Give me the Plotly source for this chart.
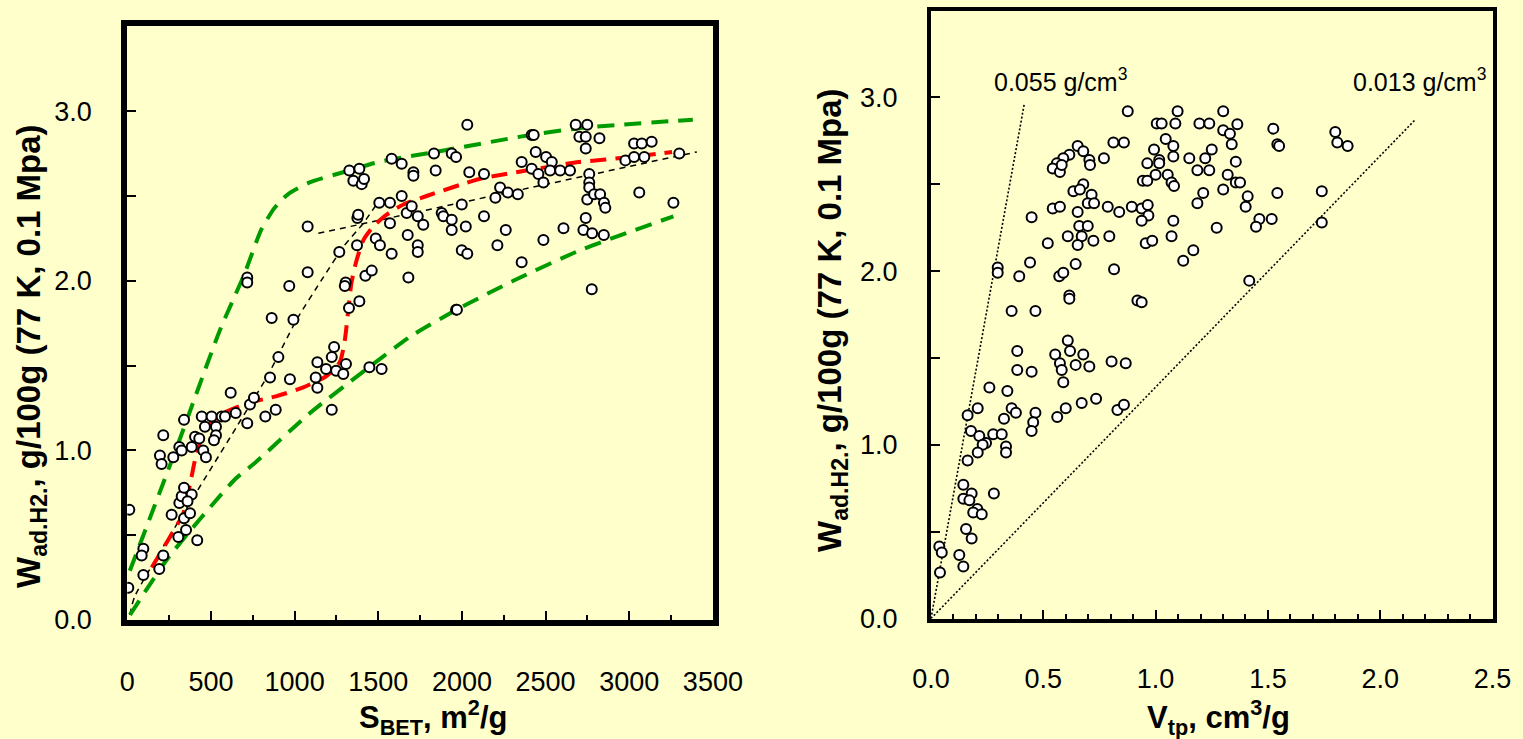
import plotly.graph_objects as go

# ---------------- data: left panel (S_BET vs W) ----------------
s_bet = [12, 6, 96, 86, 96, 215, 191, 305, 351, 418, 265, 339, 375, 311, 325, 339, 385, 360,
         195, 205, 275, 215, 311, 325, 339, 385, 405, 430, 454, 470, 445, 504, 464, 530, 530,
         518, 564, 584, 618, 648, 717, 733, 757, 825, 853, 887, 903, 972, 1136, 1136, 1126,
         1222, 1236, 1188, 1248, 1222, 1291, 1307, 1447, 1520,
         717, 717, 863, 993, 968, 1078, 1078, 1267, 1305, 1300, 1325, 1387, 1423, 1461, 1373,
         1375, 1380, 1485, 1510, 1580, 1506, 1570, 1570, 1640, 1670, 1676, 1680, 1327, 1351,
         1387, 1401, 1415, 1580, 1640, 1710, 1710, 1833, 1843, 1939, 1965, 2032, 2044, 2132,
         1700, 1736, 1769, 1736, 1736, 1879, 1889, 1939, 1939, 1999, 1999, 2032, 2023, 1965,
         1970, 2132, 2212, 2200, 2228, 2274, 2334, 2262, 2357, 2357, 2417, 2429, 2441, 2417,
         2457, 2487, 2503, 2537, 2527, 2587, 2646, 2487, 2607, 2680, 2749, 2702, 2740, 2740,
         2822, 2761, 2761, 2761, 2749, 2790, 2826, 2849, 2857, 2740, 2726, 2778, 2848, 2776,
         2977, 3029, 3075, 3134, 3029, 3090, 3060, 3264, 3299]
w_left = [0.65, 0.19, 0.42, 0.38, 0.265, 0.38, 0.30, 0.49, 0.53, 0.47, 0.62, 0.60, 0.63, 0.69,
          0.73, 0.78, 0.74, 0.70, 0.97, 0.92, 0.96, 1.09, 1.02, 1.00, 1.18, 1.02, 1.08, 1.07,
          1.00, 0.96, 1.20, 1.20, 1.14, 1.14, 1.09, 1.06, 1.20, 1.20, 1.34, 1.22, 1.16, 1.27,
          1.31, 1.20, 1.43, 1.24, 1.55, 1.42, 1.52, 1.37, 1.43, 1.55, 1.61, 1.48, 1.47, 1.24,
          1.45, 1.51, 1.49, 1.48,
          2.02, 1.99, 1.78, 1.77, 1.97, 2.05, 2.32, 2.17, 1.99, 1.97, 1.84, 1.88, 2.03, 2.06,
          2.21, 2.37, 2.39, 2.25, 2.21, 2.16, 2.46, 2.46, 2.34, 2.50, 2.40, 2.27, 2.02, 2.65,
          2.59, 2.66, 2.57, 2.60, 2.72, 2.69, 2.64, 2.62, 2.75, 2.65, 2.75, 2.73, 2.92, 2.64,
          2.63, 2.44, 2.38, 2.33, 2.21, 2.17, 2.40, 2.38, 2.36, 2.30, 2.45, 2.18, 2.16, 2.32,
          1.83, 1.83, 2.38, 2.21, 2.49, 2.55, 2.52, 2.51, 2.30, 2.11, 2.70, 2.86, 2.86, 2.76,
          2.66, 2.63, 2.58, 2.73, 2.70, 2.65, 2.65, 2.65, 2.24, 2.31, 2.92, 2.92, 2.85, 2.85,
          2.78, 2.84, 2.63, 2.58, 2.55, 2.48, 2.51, 2.51, 2.46, 2.43, 2.37, 2.30, 2.28, 2.27,
          1.95, 2.71, 2.81, 2.81, 2.82, 2.73, 2.73, 2.52, 2.46, 2.75]

# guide curves, left panel
green_up_s = [15, 300, 554, 700, 800, 880, 960, 1090, 1290, 1500, 1900, 2350, 2700, 3380]
green_up_w = [0.29, 1.03, 1.71, 2.04, 2.30, 2.43, 2.51, 2.58, 2.64, 2.70, 2.77, 2.85, 2.90, 2.95]
green_lo_s = [16, 247, 644, 755, 1092, 1391, 1690, 1969, 2307, 2706, 3264]
green_lo_w = [0.03, 0.37, 0.83, 0.92, 1.22, 1.45, 1.67, 1.83, 2.00, 2.18, 2.38]
red_s = [146, 255, 335, 375, 411, 470, 574, 723, 893, 1048, 1192, 1270, 1300, 1321, 1340,
         1370, 1411, 1470, 1550, 1650, 1789, 2105, 2445, 2700, 3017, 3256]
red_w = [0.31, 0.49, 0.63, 0.80, 0.97, 1.13, 1.22, 1.28, 1.32, 1.37, 1.44, 1.52, 1.65, 1.83,
         1.99, 2.12, 2.24, 2.32, 2.39, 2.45, 2.50, 2.60, 2.66, 2.70, 2.73, 2.76]
black1_s = [15, 45, 654, 833, 1012, 1171, 1291, 1411, 1510]
black1_w = [0.03, 0.14, 1.14, 1.43, 1.77, 2.02, 2.20, 2.34, 2.48]
black2_s = [1142, 3404]
black2_w = [2.28, 2.76]

# ---------------- data: right panel (V_tp vs W) ----------------
v_tp = [0.876, 1.005, 1.027, 1.098, 1.088, 1.195, 1.239, 1.045, 0.812, 0.859, 0.653, 0.678,
        0.616, 0.589, 0.560, 0.542, 0.574, 0.582, 0.705, 0.708, 0.770, 0.993, 1.079, 0.963,
        1.016, 1.016, 1.079, 1.150, 1.250, 1.221, 1.186, 1.239, 1.000, 1.054, 0.943, 0.963,
        1.071, 1.082, 1.212, 1.186, 0.678, 0.634, 0.663, 0.715, 0.698, 0.726, 0.542, 0.574,
        0.787, 0.838, 0.653, 0.894, 0.938, 0.965, 0.968, 0.938, 1.079, 0.448, 0.660, 0.698,
        0.671, 0.609, 0.653, 0.723, 0.794, 0.520, 0.956, 0.985, 1.071, 1.168, 1.123, 1.272,
        0.297, 0.297, 0.441, 0.393, 0.571, 0.589, 0.644, 0.815, 0.616, 0.616, 0.919, 0.938,
        0.359, 0.465, 0.609, 0.619, 0.384, 0.553, 0.678, 0.574, 0.644, 0.705, 0.804, 0.867,
        0.384, 0.448, 0.582, 0.589, 0.260, 0.340, 0.208, 0.163, 0.359, 0.378, 0.325, 0.465,
        0.455, 0.448, 0.562, 0.600, 0.671, 0.735, 0.830, 0.859, 0.178, 0.215, 0.245, 0.230,
        0.277, 0.315, 0.334, 0.334, 0.208, 0.163, 0.144, 0.181, 0.144, 0.171, 0.280, 0.206,
        0.188, 0.226, 0.156, 0.181, 0.037, 0.048, 0.126, 0.144, 0.040,
        1.301, 1.301, 1.364, 1.331, 1.339, 1.524, 1.542, 1.550, 1.800, 1.809, 1.855, 1.357,
        1.321, 1.301, 1.357, 1.376, 1.410, 1.401, 1.542, 1.740, 1.740, 1.462, 1.447, 1.517,
        1.417]
w_right = [2.92, 2.85, 2.85, 2.92, 2.85, 2.85, 2.85, 2.76, 2.74, 2.74, 2.72, 2.69, 2.67, 2.65,
           2.62, 2.59, 2.57, 2.61, 2.64, 2.61, 2.65, 2.70, 2.72, 2.62, 2.64, 2.62, 2.66, 2.65,
           2.70, 2.65, 2.58, 2.58, 2.555, 2.555, 2.52, 2.52, 2.51, 2.49, 2.45, 2.39, 2.50, 2.46,
           2.47, 2.44, 2.39, 2.39, 2.36, 2.37, 2.37, 2.34, 2.34, 2.37, 2.36, 2.38, 2.32, 2.29,
           2.29, 2.31, 2.26, 2.26, 2.20, 2.20, 2.15, 2.175, 2.20, 2.16, 2.16, 2.175, 2.20, 2.12,
           2.06, 2.25, 2.02, 1.99, 2.05, 1.97, 1.97, 1.99, 2.04, 2.01, 1.86, 1.84, 1.83, 1.82,
           1.77, 1.77, 1.60, 1.54, 1.54, 1.52, 1.52, 1.47, 1.46, 1.45, 1.48, 1.47, 1.43, 1.42,
           1.43, 1.36, 1.33, 1.31, 1.21, 1.17, 1.21, 1.185, 1.15, 1.185, 1.13, 1.08, 1.16, 1.21,
           1.24, 1.265, 1.20, 1.23, 1.08, 1.05, 1.01, 1.00, 1.06, 1.06, 0.99, 0.955, 0.955, 0.91,
           0.77, 0.72, 0.69, 0.68, 0.72, 0.63, 0.61, 0.60, 0.515, 0.46, 0.415, 0.38, 0.365,
           0.30, 0.265,
           2.92, 2.81, 2.845, 2.79, 2.73, 2.82, 2.73, 2.72, 2.80, 2.74, 2.72, 2.63, 2.555, 2.47,
           2.51, 2.51, 2.43, 2.37, 2.45, 2.46, 2.28, 2.30, 2.255, 2.30, 1.945]

# density lines, right panel
line_hi_v = [0.0, 0.415]
line_hi_w = [0.0, 2.96]
line_lo_v = [0.0, 2.155]
line_lo_w = [0.0, 2.87]

left_x_ticks = [0, 500, 1000, 1500, 2000, 2500, 3000, 3500]
right_x_ticks = [0.0, 0.5, 1.0, 1.5, 2.0, 2.5]
y_ticks = [0.0, 1.0, 2.0, 3.0]

# ---------------- figure ----------------
BG = "#FFFFCC"
FONT = "Liberation Sans, Arial, sans-serif"
GREEN = "rgb(0,155,0)"
W, H = 1523, 739

fig = go.Figure()

def line(x, y, color, width, dash, xa, ya, shape="spline"):
    fig.add_trace(go.Scatter(x=x, y=y, mode="lines", xaxis=xa, yaxis=ya,
                             line=dict(color=color, width=width, dash=dash, shape=shape,
                                       smoothing=0.6),
                             hoverinfo="skip", showlegend=False))

line(black1_s, black1_w, "black", 1.5, "6px,5px", "x", "y")
line(black2_s, black2_w, "black", 1.5, "6px,5px", "x", "y", "linear")
line(green_up_s, green_up_w, GREEN, 4, "17px,10px", "x", "y")
line(green_lo_s, green_lo_w, GREEN, 4, "17px,10px", "x", "y")
line(red_s, red_w, "red", 4, "16px,9px", "x", "y")

marker = dict(size=10, color="white", line=dict(color="black", width=2))
fig.add_trace(go.Scatter(x=s_bet, y=w_left, mode="markers", marker=marker,
                         xaxis="x", yaxis="y", showlegend=False))

line(line_hi_v, line_hi_w, "black", 1.6, "2px,2px", "x2", "y2", "linear")
line(line_lo_v, line_lo_w, "black", 1.6, "2px,2px", "x2", "y2", "linear")
fig.add_trace(go.Scatter(x=v_tp, y=w_right, mode="markers", marker=marker,
                         xaxis="x2", yaxis="y2", showlegend=False))

def px_x(p):
    return p / W

def px_y(p):
    return 1 - p / H

tickfont = dict(family=FONT, size=27, color="black")

common_x = dict(showgrid=False, zeroline=False, showline=True, linecolor="black",
                mirror=True, ticks="inside", tickcolor="black", tickwidth=2, ticklen=9,
                tickfont=tickfont, ticklabelstandoff=33, automargin=False)
common_y = dict(showgrid=False, zeroline=False, showline=True, linecolor="black",
                mirror=True, ticks="inside", tickcolor="black", tickwidth=2, ticklen=9,
                tickfont=tickfont, ticklabelstandoff=24, automargin=False)

fig.update_layout(
    width=W, height=H, autosize=False,
    margin=dict(l=0, r=0, t=0, b=0, pad=0, autoexpand=False),
    paper_bgcolor=BG, plot_bgcolor=BG,
    xaxis=dict(common_x, domain=[px_x(127.3), px_x(712.9)], range=[0, 3500], linewidth=6,
               tickmode="array", tickvals=left_x_ticks,
               ticktext=[str(v) for v in left_x_ticks],
               minor=dict(ticks="inside", dtick=250, ticklen=5, tickcolor="black", tickwidth=2),
               anchor="y"),
    yaxis=dict(common_y, domain=[px_y(620), px_y(26.4)], range=[0, 3.5], linewidth=6,
               tickmode="array", tickvals=y_ticks, ticktext=[f"{v:.1f}" for v in y_ticks],
               minor=dict(ticks="inside", dtick=0.5, ticklen=9, tickcolor="black", tickwidth=2),
               anchor="x"),
    xaxis2=dict(common_x, domain=[px_x(931), px_x(1492.5)], range=[0, 2.5], linewidth=4,
                tickmode="array", tickvals=right_x_ticks,
                ticktext=[f"{v:.1f}" for v in right_x_ticks],
                minor=dict(ticks="inside", dtick=0.1, ticklen=5, tickcolor="black", tickwidth=2),
                anchor="y2"),
    yaxis2=dict(common_y, domain=[px_y(618.5), px_y(10.5)], range=[0, 3.5], linewidth=4,
                tickmode="array", tickvals=y_ticks, ticktext=[f"{v:.1f}" for v in y_ticks],
                minor=dict(ticks="inside", dtick=0.5, ticklen=9, tickcolor="black", tickwidth=2),
                anchor="x2"),
)

xtitle_font = dict(family=FONT, size=31, color="black")
ytitle_font = dict(family=FONT, size=33, color="black")
ytitle = "<b>W<sub>ad.H2.</sub>, g/100g (77 K, 0.1 Mpa)</b>"
annotations = [
    dict(text=ytitle, x=px_x(31), y=px_y(356), textangle=-90, font=ytitle_font),
    dict(text=ytitle, x=px_x(832), y=px_y(320), textangle=-90, font=ytitle_font),
    dict(text="<b>S<sub>BET</sub>, m<sup>2</sup>/g</b>", x=px_x(433), y=px_y(717),
         font=xtitle_font),
    dict(text="<b>V<sub>tp</sub>, cm<sup>3</sup>/g</b>", x=px_x(1218), y=px_y(717),
         font=xtitle_font),
    dict(text="0.055 g/cm<sup>3</sup>", x=px_x(1060), y=px_y(80),
         font=dict(family=FONT, size=25, color="black")),
    dict(text="0.013 g/cm<sup>3</sup>", x=px_x(1419), y=px_y(80),
         font=dict(family=FONT, size=25, color="black")),
]
for a in annotations:
    a.update(xref="paper", yref="paper", showarrow=False, xanchor="center", yanchor="middle")
fig.update_layout(annotations=annotations)

page_fix = ("document.body.style.margin='0';"
            "document.body.style.padding='0';"
            "document.body.style.overflow='hidden';"
            "document.body.style.background='" + BG + "';")
fig.write_html("out.html", config={"responsive": False, "displayModeBar": False},
               post_script=page_fix)
